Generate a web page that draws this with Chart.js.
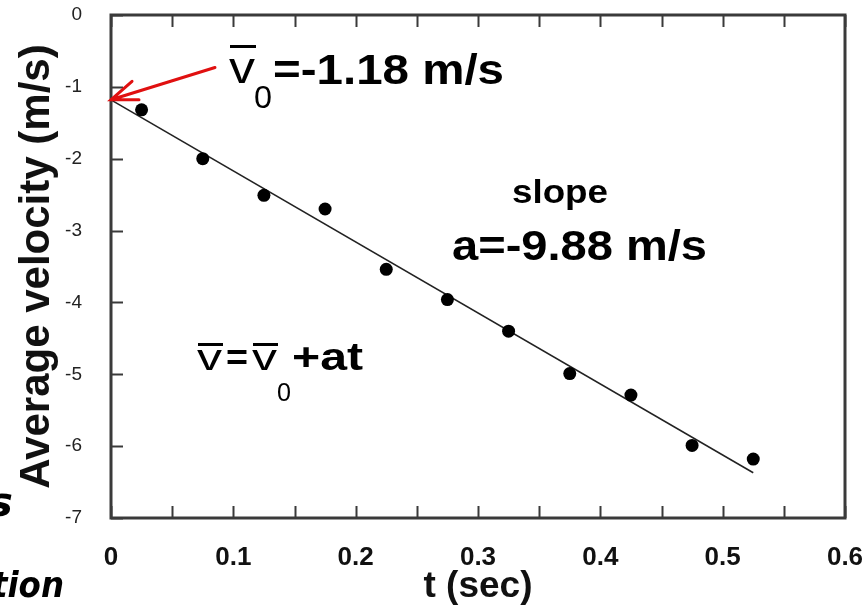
<!DOCTYPE html>
<html>
<head>
<meta charset="utf-8">
<title>Average velocity vs time</title>
<script src="https://cdn.jsdelivr.net/npm/chart.js@4/dist/chart.umd.min.js"></script>
<style>
    html, body { margin: 0; padding: 0; background: #fff; }
    canvas { display: block; }
</style>
</head>
<body>
<canvas id="velocityChart" width="866" height="613"></canvas>
<script>
// Measured points: time (s) and average velocity (m/s)
const timeValues = [0.025, 0.075, 0.125, 0.175, 0.225, 0.275, 0.325, 0.375, 0.425, 0.475, 0.525];
const velocityValues = [-1.32, -2.00, -2.51, -2.70, -3.54, -3.96, -4.40, -4.99, -5.29, -5.99, -6.18];

// Straight-line fit, end points as drawn
const fitTimes = [0, 0.525];
const fitVelocities = [-1.18, -6.37];

// Axis ranges
const xRange = [0, 0.6];
const yRange = [-7, 0];

const FRAME = '#3a3a3a';

// frame on all four sides, ticks pointing inward (bottom, top, left)
const framePlugin = {
    id: 'frame',
    afterDraw(chart) {
        const { ctx, chartArea: a, scales } = chart;
        ctx.save();
        ctx.strokeStyle = FRAME;
        ctx.lineWidth = 2;
        scales.x.ticks.forEach(t => {
            const px = Math.round(scales.x.getPixelForValue(t.value)) + 0.5;
            ctx.beginPath();
            ctx.moveTo(px, a.bottom); ctx.lineTo(px, a.bottom - 12);
            ctx.moveTo(px, a.top); ctx.lineTo(px, a.top + 12);
            ctx.stroke();
        });
        scales.y.ticks.forEach(t => {
            const py = Math.round(scales.y.getPixelForValue(t.value)) + 0.5;
            ctx.beginPath();
            ctx.moveTo(a.left, py); ctx.lineTo(a.left + 12, py);
            ctx.stroke();
        });
        ctx.lineWidth = 3;
        ctx.strokeRect(a.left, a.top, a.right - a.left, a.bottom - a.top);
        ctx.restore();
    }
};

// draw text squeezed/stretched to a given width
function fitText(ctx, text, x, y, font, width) {
    ctx.font = font;
    const w = ctx.measureText(text).width;
    ctx.save();
    ctx.translate(x, y);
    ctx.scale(width / w, 1);
    ctx.fillText(text, 0, 0);
    ctx.restore();
}

function vBar(ctx, x, baseline, size, width, barY) {
    fitText(ctx, 'v', x, baseline, size + 'px "Liberation Sans"', width);
    ctx.fillRect(x + 1, barY, width, 3);
}

const notesPlugin = {
    id: 'notes',
    afterDraw(chart) {
        const { ctx, scales } = chart;
        ctx.save();
        ctx.fillStyle = '#000';
        ctx.textBaseline = 'alphabetic';

        // v0 label
        vBar(ctx, 229, 83, 44, 26, 45);
        fitText(ctx, '0', 254, 108, '31px "Liberation Sans"', 18);
        fitText(ctx, '=-1.18 m/s', 273, 84, 'bold 42px "Liberation Sans"', 231);

        // slope
        fitText(ctx, 'slope', 512, 203, 'bold 34px "Liberation Sans"', 96);
        fitText(ctx, 'a=-9.88 m/s', 452, 260, 'bold 42px "Liberation Sans"', 255);

        // v = v0 + at
        vBar(ctx, 197, 370, 36, 25, 343);
        fitText(ctx, '=', 226, 370, 'bold 36px "Liberation Sans"', 22);
        vBar(ctx, 252, 370, 36, 25, 343);
        fitText(ctx, '0', 277, 401, '26px "Liberation Sans"', 14);
        fitText(ctx, '+at', 292, 370, 'bold 38px "Liberation Sans"', 71);

        // red arrow pointing at the intercept
        const tipX = scales.x.getPixelForValue(0);
        const tipY = scales.y.getPixelForValue(fitVelocities[0]);
        const tailX = scales.x.getPixelForValue(0.085);
        const tailY = scales.y.getPixelForValue(-0.73);
        const ang = Math.atan2(tailY - tipY, tailX - tipX);
        ctx.strokeStyle = '#e01010';
        ctx.lineWidth = 3;
        ctx.lineCap = 'round';
        ctx.beginPath();
        ctx.moveTo(tailX, tailY);
        ctx.lineTo(tipX, tipY);
        ctx.moveTo(tipX + 28 * Math.cos(ang - 0.42), tipY + 28 * Math.sin(ang - 0.42));
        ctx.lineTo(tipX, tipY);
        ctx.lineTo(tipX + 28 * Math.cos(ang + 0.3), tipY + 28 * Math.sin(ang + 0.3));
        ctx.stroke();

        // cropped lettering at the left edge of the original picture
        fitText(ctx, 's', -13, 516, 'bold italic 40px "DejaVu Sans"', 26);
        fitText(ctx, 'tion', -8, 597, 'bold italic 36px "DejaVu Sans"', 72);
        ctx.restore();
    }
};

new Chart(document.getElementById('velocityChart'), {
    type: 'scatter',
    data: {
        datasets: [{
            label: 'measured',
            data: timeValues.map((t, i) => ({ x: t, y: velocityValues[i] })),
            backgroundColor: '#000',
            borderWidth: 0,
            pointRadius: 6.5
        }, {
            label: 'fit',
            data: fitTimes.map((t, i) => ({ x: t, y: fitVelocities[i] })),
            showLine: true,
            borderColor: '#222',
            borderWidth: 1.5,
            pointRadius: 0
        }]
    },
    options: {
        responsive: false,
        animation: false,
        events: [],
        layout: { autoPadding: false, padding: { top: 15, right: 21, left: 0, bottom: 0 } },
        plugins: { legend: { display: false }, tooltip: { enabled: false } },
        scales: {
            x: {
                type: 'linear',
                min: xRange[0],
                max: xRange[1],
                grid: { display: false },
                border: { display: false },
                ticks: {
                    stepSize: 0.05,
                    autoSkip: false,
                    maxRotation: 0,
                    padding: 16,
                    color: '#111',
                    font: { family: '"Liberation Sans"', size: 26, weight: 'bold' },
                    callback: value => {
                        const v = Math.round(value * 100);
                        return v % 10 === 0 ? String(v / 100) : '';
                    }
                },
                title: {
                    display: true,
                    text: 't (sec)',
                    color: '#111',
                    font: { family: '"Liberation Sans"', size: 37, weight: 'bold' },
                    padding: { top: 0, bottom: 4 }
                },
                afterFit: scale => {
                    scale.height = 95;
                    scale.paddingLeft = 0;
                    scale.paddingRight = 0;
                }
            },
            y: {
                min: yRange[0],
                max: yRange[1],
                grid: { display: false },
                border: { display: false },
                ticks: {
                    stepSize: 1,
                    padding: 21,
                    color: '#222',
                    font: { family: '"Liberation Sans"', size: 19 }
                },
                title: {
                    display: true,
                    text: 'Average velocity (m/s)',
                    color: '#111',
                    font: { family: '"Liberation Sans"', size: 42, weight: 'bold' },
                    padding: { top: 12, bottom: 0 }
                },
                afterFit: scale => {
                    scale.width = 111;
                    scale.paddingTop = 0;
                    scale.paddingBottom = 0;
                }
            }
        }
    },
    plugins: [framePlugin, notesPlugin]
});
</script>
</body>
</html>
